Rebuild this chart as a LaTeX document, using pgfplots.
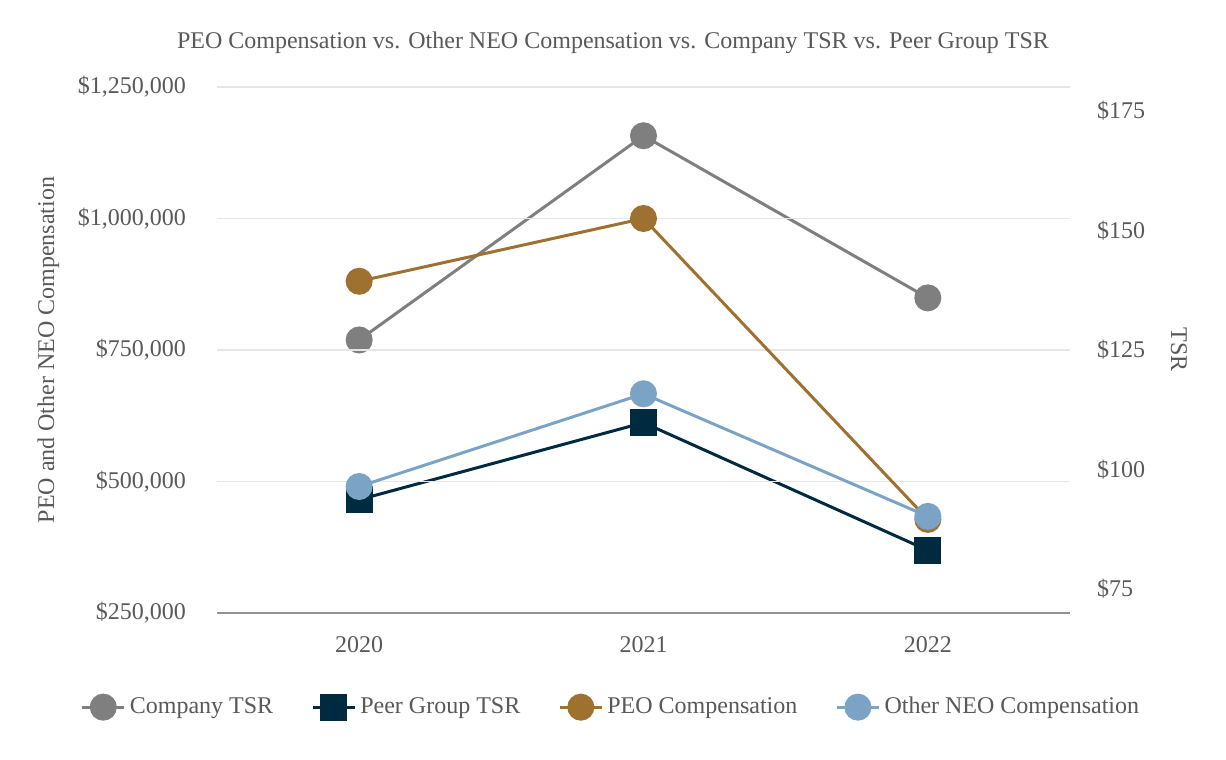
\documentclass[border=0pt]{standalone}
\usepackage{pgfplots}
\pgfplotsset{compat=1.18}
\usepackage{fontspec}
\setmainfont{Liberation Serif}
\definecolor{txt}{HTML}{595959}
\definecolor{cgrey}{HTML}{7F7F7F}
\definecolor{cnavy}{HTML}{002A40}
\definecolor{cbrown}{HTML}{9E7130}
\definecolor{cblue}{HTML}{7AA3C6}
\definecolor{grd}{HTML}{E6E6E6}
\begin{document}
\begin{tikzpicture}
\useasboundingbox (-108.5pt,-73.5pt) rectangle (504.5pt,306.5pt);
\pgfplotsset{
  base/.style={
    scale only axis, width=426.5pt, height=263pt,
    xmin=-0.5, xmax=2.5,
    xtick={0,1,2}, xticklabels={2020,2021,2022},
    major tick length=0pt,
    scaled ticks=false,
    tick label style={font=\fontsize{12}{14}\selectfont, text=txt},
    label style={font=\fontsize{12}{14}\selectfont, text=txt},
    /pgf/number format/assume math mode=true,
  },
}
% right axis: TSR
\begin{axis}[base,
  axis y line*=right, axis x line=none,
  ymin=70, ymax=180,
  ytick={75,100,125,150,175},
  yticklabels={{\$75},{\$100},{\$125},{\$150},{\$175}},
  y axis line style={draw=none},
  yticklabel style={xshift=10pt},
  ylabel={TSR}, ylabel style={rotate=180},
  ylabel shift=6pt,
]
\addplot[cgrey, line width=1.5pt, mark=*, mark size=6pt] coordinates {(0,127.1) (1,169.8) (2,135.9)};
\addplot[cnavy, line width=1.5pt, mark=square*, mark size=6pt] coordinates {(0,93.7) (1,109.8) (2,83.1)};
\end{axis}
% left axis: compensation
\begin{axis}[base,
  axis y line*=left, axis x line*=bottom,
  ymin=250000, ymax=1250000,
  ytick={250000,500000,750000,1000000,1250000},
  yticklabels={{\$250,000},{\$500,000},{\$750,000},{\$1,000,000},{\$1,250,000}},
  ymajorgrids, grid style={grd, line width=0.8pt},
  y axis line style={draw=none},
  x axis line style={draw=cgrey!85, line width=0.8pt},
  yticklabel style={xshift=-12pt},
  xticklabel style={yshift=-8pt},
  ylabel={PEO and Other NEO Compensation},
  ylabel shift=2.5pt,
  legend columns=4,
  legend style={at={(rel axis cs:0.463,-0.179)}, anchor=center, draw=none,
    font=\fontsize{12}{14}\selectfont, text=txt,
    /tikz/every even column/.append style={column sep=17pt}},
  legend image code/.code={
    \draw[#1, mark=none] (0cm,0cm) -- (0.74cm,0cm);
    \path[#1] plot coordinates {(0.37cm,0cm)};
  },
]
\addlegendimage{cgrey, line width=1.5pt, mark=*, mark size=6pt}
\addlegendentry{Company TSR}
\addlegendimage{cnavy, line width=1.5pt, mark=square*, mark size=6pt}
\addlegendentry{Peer Group TSR}
\addplot[cbrown, line width=1.5pt, mark=*, mark size=6pt] coordinates {(0,880700) (1,1000000) (2,428000)};
\addlegendentry{PEO Compensation}
\addplot[cblue, line width=1.5pt, mark=*, mark size=6pt] coordinates {(0,490500) (1,666700) (2,433700)};
\addlegendentry{Other NEO Compensation}
\end{axis}
\node[text=txt, font=\fontsize{12}{14}\selectfont] at (198pt,285pt) {PEO Compensation vs. Other NEO Compensation vs. Company TSR vs. Peer Group TSR};
\end{tikzpicture}
\end{document}
